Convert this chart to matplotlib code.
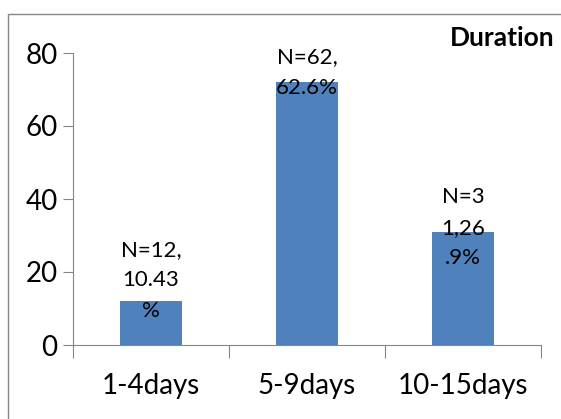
import matplotlib.pyplot as plt
from matplotlib.patches import Rectangle

plt.rcParams['font.family'] = ['Lato', 'DejaVu Sans']

# Données
categories = ['1-4days', '5-9days', '10-15days']
values = [12, 72, 31]
labels = ['N=12,\n10.43\n%', 'N=62,\n62.6%', 'N=3\n1,26\n.9%']
label_offsets = [15, 7, 3]   # décalage vertical (pt) au-dessus de la barre

fig = plt.figure(figsize=(5.61, 4.19), dpi=100)
ax = fig.add_axes([73/561, 1 - 345/419, 468/561, 292/419])

x = range(len(categories))
ax.bar(x, values, width=0.4, color='#4F81BD')

for xi, v, lab, off in zip(x, values, labels, label_offsets):
    ax.annotate(lab, xy=(xi, v), xytext=(0, off), textcoords='offset points',
                ha='center', va='center', fontsize=16, linespacing=1.65)

ax.set_xlim(-0.5, 2.5)
ax.set_ylim(0, 80)
ax.set_yticks([0, 20, 40, 60, 80])
ax.set_xticks([-0.5, 0.5, 1.5, 2.5])
ax.set_xticklabels([])
ax.set_xticks(list(x), categories, minor=True)
ax.tick_params(axis='x', which='major', direction='out', length=9, color='#868686')
ax.tick_params(axis='x', which='minor', length=0, labelsize=20, pad=20)
ax.tick_params(axis='y', direction='out', length=7, color='#868686', labelsize=20, pad=4)
for s in ['top', 'right']:
    ax.spines[s].set_visible(False)
for s in ['left', 'bottom']:
    ax.spines[s].set_color('#868686')

fig.text(555/561, 1 - 38/419, 'Duration', ha='right', va='center',
         fontsize=19, fontweight='bold')

fig.patches.append(Rectangle((8/561, -0.1), 1.1, 1 - 14/419 + 0.1,
                             transform=fig.transFigure, fill=False,
                             edgecolor='#868686', lw=1))

fig.savefig('out.png', dpi=100)
